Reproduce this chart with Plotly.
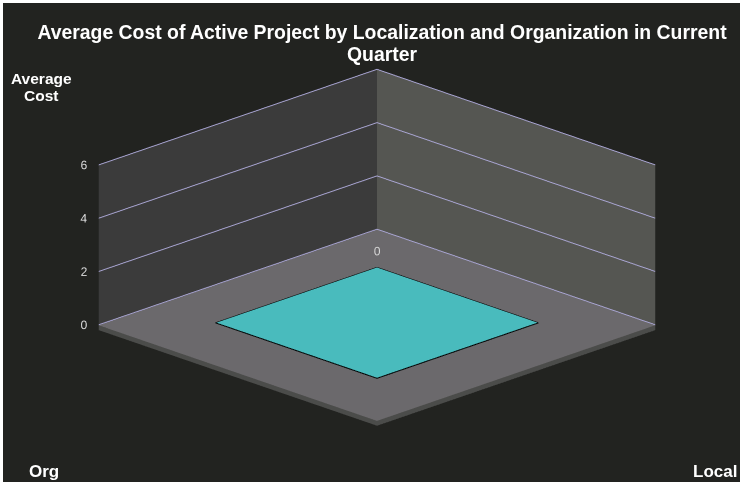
import plotly.graph_objects as go

# ---- data ----
org_categories = [""]
local_categories = [""]
avg_cost = [0]
z_ticks = [0, 2, 4, 6]
z_tick_labels = ["0", "2", "4", "6"]

BG = "#222320"
CYAN = "#49bbbd"
GRID = "#aaa6d4"
FLOOR = "#6b696c"
FLOOR_EDGE = "#4b4c4a"
W, H = 743, 482
OFF = 3  # page offset of the chart
Z_MIN = -0.2
ZOOM = 1.7


def px(x, y):
    return (x - OFF) / W, 1 - (y - OFF) / H


flat = dict(ambient=1, diffuse=0, specular=0, roughness=1, fresnel=0)
fig = go.Figure()

nx, ny = len(org_categories), len(local_categories)

# floor slab (top face + two front faces)
st, sb = -0.02, Z_MIN
fig.add_trace(go.Mesh3d(
    x=[0, nx, nx, 0, 0, nx, nx, 0],
    y=[0, 0, ny, ny, 0, 0, ny, ny],
    z=[st, st, st, st, sb, sb, sb, sb],
    i=[0, 0, 1, 1, 3, 3], j=[1, 2, 2, 5, 2, 6], k=[2, 3, 6, 6, 6, 7],
    facecolor=[FLOOR, FLOOR, FLOOR_EDGE, FLOOR_EDGE, FLOOR_EDGE, FLOOR_EDGE],
    flatshading=True, lighting=flat, hoverinfo="skip", showscale=False))

# bar (value 0 -> flat top at height 0)
bw0, bw1 = 0.2, 0.78
for i, org in enumerate(org_categories):
    for j, loc in enumerate(local_categories):
        v = avg_cost[i]
        x0, x1 = i + bw0, i + bw1
        y0, y1 = j + bw0, j + bw1
        fig.add_trace(go.Mesh3d(
            x=[x0, x1, x1, x0], y=[y0, y0, y1, y1], z=[v, v, v, v],
            i=[0, 0], j=[1, 2], k=[2, 3],
            color=CYAN, opacity=1, flatshading=True, lighting=flat,
            hoverinfo="skip", showscale=False))
        fig.add_trace(go.Scatter3d(
            x=[x0, x1, x1, x0, x0], y=[y0, y0, y1, y1, y0], z=[v] * 5,
            mode="lines", line=dict(color="black", width=2),
            hoverinfo="skip", showlegend=False))
        fig.add_trace(go.Scatter3d(
            x=[x0], y=[y0], z=[v], mode="text", text=[str(v)],
            textposition="top center",
            textfont=dict(color="#d8d8d8", size=12, family="Liberation Sans"),
            hoverinfo="skip", showlegend=False))

# z tick labels on the outer left edge of the left wall
fig.add_trace(go.Scatter3d(
    x=[nx] * len(z_ticks), y=[0] * len(z_ticks), z=z_ticks,
    mode="text", text=[t + "\u2002" for t in z_tick_labels],
    textposition="middle left",
    textfont=dict(color="#e0e0e0", size=12, family="Liberation Sans"),
    hoverinfo="skip", showlegend=False))

axis_common = dict(showticklabels=False, showgrid=False, zeroline=False,
                   showline=False, showspikes=False, title=dict(text=""),
                   showbackground=True, ticks="")

tx, ty = px(382, 25)
fig.update_layout(
    width=W, height=H,
    paper_bgcolor=BG, plot_bgcolor=BG,
    margin=dict(l=0, r=0, t=0, b=0),
    showlegend=False,
    title=dict(
        text="<b>Average Cost of Active Project by Localization and Organization in Current</b>",
        x=tx, xanchor="center", y=ty, yanchor="top",
        font=dict(family="Liberation Sans", size=19.4, color="white")),
    scene=dict(
        domain=dict(x=[0.007, 1], y=[0.0125, 0.9725]),
        xaxis=dict(range=[0, nx], backgroundcolor="#555652", **axis_common),
        yaxis=dict(range=[0, ny], backgroundcolor="#3b3b3b", **axis_common),
        zaxis=dict(range=[Z_MIN, 6], tickvals=z_ticks, showticklabels=False,
                   showgrid=True, gridcolor=GRID, gridwidth=2, zeroline=False,
                   showline=False, showspikes=False, title=dict(text=""),
                   showbackground=True, backgroundcolor=FLOOR, ticks=""),
        aspectmode="manual",
        aspectratio=dict(x=ZOOM, y=ZOOM, z=0.447 * ZOOM),
        camera=dict(eye=dict(x=0.731, y=0.731, z=0.378), center=dict(x=0, y=0, z=0),
                    up=dict(x=0, y=0, z=1), projection=dict(type="orthographic")),
    ),
)

ann_font = dict(family="Liberation Sans", color="white")
for text, (sx, sy), size in [("<b>Quarter</b>", (382, 54), 19.4),
                             ("<b>Average</b>", (41, 78), 15.5),
                             ("<b>Cost</b>", (41, 96), 15.5),
                             ("<b>Org</b>", (44, 471), 17),
                             ("<b>Local</b>", (715, 471), 17)]:
    ax, ay = px(sx, sy)
    fig.add_annotation(text=text, x=ax, y=ay, xref="paper", yref="paper",
                       xanchor="center", yanchor="middle", showarrow=False,
                       font=dict(size=size, **ann_font))

fig.write_html("out.html", post_script="document.body.style.margin='3px';")
